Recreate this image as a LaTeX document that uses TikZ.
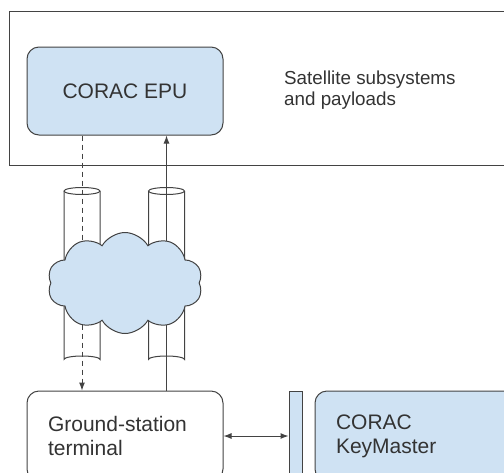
\documentclass[tikz,border=0pt]{standalone}
\usepackage{fontspec}
\setmainfont{Liberation Sans}
\usetikzlibrary{positioning,arrows.meta,shapes.geometric,shapes.symbols}
\definecolor{boxblue}{HTML}{CFE2F3}
\definecolor{edge}{HTML}{434343}
\definecolor{ink}{HTML}{333333}
\tikzset{
  plainbox/.style={rectangle, rounded corners=12pt, draw=edge, line width=1pt, fill=white, text=ink, font=\fontsize{21}{24}\selectfont},
  bluebox/.style={plainbox, fill=boxblue},
  pipewall/.style={draw=edge, line width=1pt},
  netcloud/.style={cloud, cloud puffs=10, cloud puff arc=120, aspect=1.5, draw=edge, line width=1pt, fill=boxblue, minimum width=155pt, minimum height=101pt},
  fwd/.style={-{Latex[length=8pt,width=6pt]}, line width=1pt, draw=edge},
  bothway/.style={{Latex[length=8pt,width=6pt]}-{Latex[length=8pt,width=6pt]}, line width=1pt, draw=edge},
}
\begin{document}
\begin{tikzpicture}[x=1pt, y=-1pt]
  \useasboundingbox (0,0) rectangle (504,472);
  \clip (0,0) rectangle (504,472);
  \node[plainbox, rounded corners=0pt, anchor=north west, minimum width=540pt, minimum height=154pt] (sat) at (9,10.5) {};
  \node[bluebox, minimum width=196pt, minimum height=88pt] (epu) at (125,91) {CORAC EPU};
  \node[anchor=west, align=left, text=ink, font=\fontsize{18.8}{20.5}\selectfont, inner sep=0pt] (satlabel) at (284,90) {Satellite subsystems\\and payloads};

  \node[plainbox, below=255pt of epu, minimum height=90pt, text width=154pt, inner xsep=21pt, align=left] (ground) {Ground-station\\terminal};
  \node[bluebox, rounded corners=0pt, right=65pt of ground, minimum width=13pt, minimum height=90pt, inner sep=0pt] (bar) {};
  \node[bluebox, right=91pt of ground, minimum height=90pt, text width=170pt, inner xsep=21pt, align=left] (keymaster) {CORAC\\KeyMaster};

  % pipes behind the links, cloud on top
  \foreach \px/\pname in {82/pipeL, 166.5/pipeR} {
    \coordinate (\pname) at (\px,275);
    \draw[pipewall] (\px-18,191) -- (\px-18,359.5)
      arc[start angle=180, end angle=360, x radius=18, y radius=3.5] -- (\px+18,191);
    \draw[pipewall] (\px,191) ellipse[x radius=18, y radius=3.5];
  }
  \draw[fwd, dash pattern=on 5pt off 4pt] (epu.south -| pipeL) -- (ground.north -| pipeL);
  \draw[fwd] (ground.north -| pipeR) -- (epu.south -| pipeR);
  \node[netcloud] (net) at (125,283) {};

  \draw[bothway] (ground.east) -- (ground.east -| bar.west);
\end{tikzpicture}
\end{document}
